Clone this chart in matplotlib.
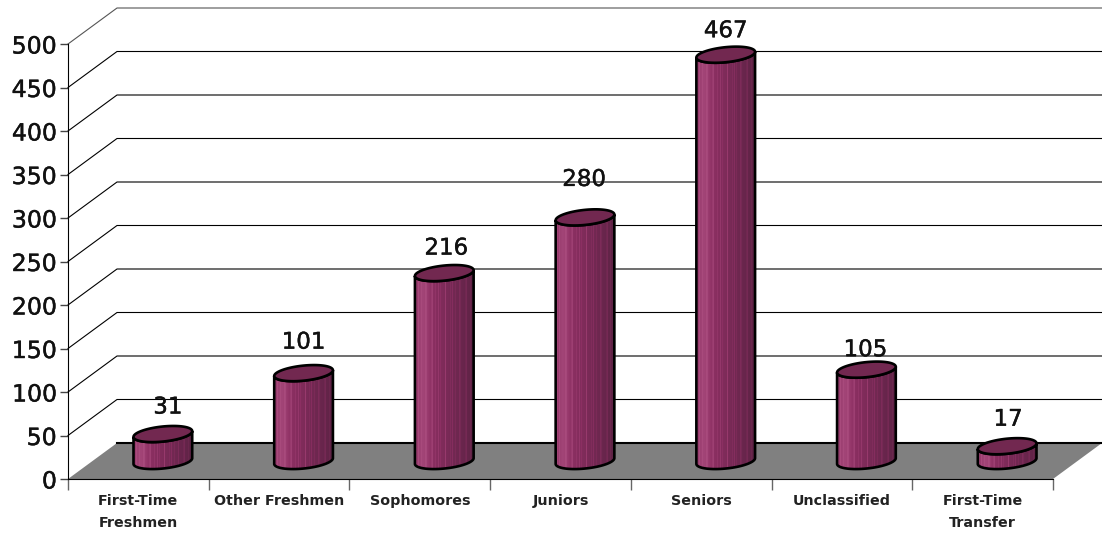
import numpy as np
import matplotlib
matplotlib.use('Agg')
import matplotlib.pyplot as plt
import matplotlib.patheffects as pe
from matplotlib.patches import Polygon
from matplotlib.colors import LinearSegmentedColormap

categories = ['First-Time\nFreshmen', 'Other Freshmen', 'Sophomores', 'Juniors',
              'Seniors', 'Unclassified', 'First-Time\nTransfer']
values = [31, 101, 216, 280, 467, 105, 17]
y_ticks = list(range(0, 501, 50))

# layout in pixels, the picture is 1102x536
LEFT, RIGHT, BOTTOM, TOP = 68, 1053, 479, 44
DEPTH_X, DEPTH_Y = 49, 36
label_gap = [27, 31, 25, 38, 24, 20, 27]
label_shift = [5, 0, 2, -1, 0, -1, 1]

PX_X = (RIGHT - LEFT) / len(categories)
PX_Y = (BOTTOM - TOP) / 500

A, B, TILT = 29.5, 7.5, np.radians(6)

bar_cmap = LinearSegmentedColormap.from_list('bar', ['#54203f', '#6f2750', '#8c2f62', '#a84a7c'])


def ellipse(cx, cy, t):
	# tilted end of a cylinder, (cx, cy) in data units
	px = A * np.cos(t) * np.cos(TILT) - B * np.sin(t) * np.sin(TILT)
	py = A * np.cos(t) * np.sin(TILT) + B * np.sin(t) * np.cos(TILT)
	return cx + px / PX_X, cy + py / PX_Y


def drawCylinder(ax, cx, base, top):
	t0 = np.arctan2(-B * np.sin(TILT), A * np.cos(TILT))
	arc_x, arc_y = ellipse(cx, base, np.linspace(t0 - np.pi, t0, 100))
	body_x = np.r_[arc_x, arc_x[::-1]]
	body_y = np.r_[arc_y, arc_y[::-1] + (top - base)]
	ax.add_patch(Polygon(np.c_[body_x, body_y], closed=True, facecolor='none', edgecolor='black',
						 lw=1.9, zorder=4, clip_on=False))

	# vertical shading with thin light stripes, darker to the right
	n = 60
	edges = np.linspace(body_x.min(), body_x.max(), n + 1)
	frac = np.linspace(0, 1, n)
	shade = 0.72 - 0.75 * np.clip(frac - 0.2, 0, 1) + 0.2 * np.exp(-((frac - 0.12) / 0.1) ** 2)
	shade = shade + 0.2 * (np.arange(n) % 7 == 3) + 0.12 * (np.arange(n) % 5 == 1)
	mesh = ax.pcolormesh(edges, [body_y.min(), body_y.max()], shade[None, :],
						 cmap=bar_cmap, vmin=0, vmax=1, zorder=3, clip_on=True)
	mesh.set_clip_path(Polygon(np.c_[body_x, body_y], closed=True, transform=ax.transData))

	t = np.linspace(0, 2 * np.pi, 200)
	xt, yt = ellipse(cx, top, t)
	ax.fill(xt, yt, facecolor='#722850', edgecolor='black', lw=1.9, zorder=5, clip_on=False)


def plotGraph():
	fig = plt.figure(figsize=(11.02, 5.36), dpi=100)
	ax = fig.add_axes([LEFT / 1102, (536 - BOTTOM) / 536, (RIGHT - LEFT) / 1102, (BOTTOM - TOP) / 536])
	n = len(categories)
	dx = DEPTH_X / PX_X
	dy = DEPTH_Y / PX_Y
	heavy = [pe.withStroke(linewidth=0.3, foreground='#111111')]

	# floor
	ax.add_patch(Polygon([(0, 0), (n, 0), (n + dx, dy), (dx, dy)], closed=True, facecolor='#808080',
						 edgecolor='none', zorder=1, clip_on=False))
	ax.plot([dx, n + dx], [dy, dy], color='black', lw=1.5, zorder=2, clip_on=False)

	# grid on the back wall and the side wall
	for v in y_ticks[1:]:
		col = '#555555' if v == 500 else 'black'
		ax.plot([0, dx, n + dx], [v, v + dy, v + dy], color=col, lw=0.8, zorder=0.5, clip_on=False)

	for i, v in enumerate(values):
		cx = i + 0.5 + dx / 2
		drawCylinder(ax, cx, dy / 2, dy / 2 + v)
		ax.text(cx + label_shift[i] / PX_X, dy / 2 + v + label_gap[i] / PX_Y, str(v), ha='center', va='center',
				fontsize=16.5, color='#111111', zorder=6, path_effects=heavy)

	ax.set_xlim(0, n)
	ax.set_ylim(0, 500)
	ax.set_yticks(y_ticks)
	ax.tick_params(axis='y', labelsize=17, length=6, width=1, color='#444444', pad=2, labelcolor='#111111')
	for lab in ax.get_yticklabels():
		lab.set_path_effects(heavy)
	ax.set_xticks(np.arange(n + 1))
	ax.set_xticklabels([])
	ax.tick_params(axis='x', which='major', length=8, width=1, color='#666666')
	ax.set_xticks(np.arange(n) + 0.5, minor=True)
	ax.set_xticklabels(categories, minor=True, fontsize=10.3, fontweight='bold', color='#222222', linespacing=1.75)
	ax.tick_params(axis='x', which='minor', length=0, pad=10.5)
	for s in ['top', 'right']:
		ax.spines[s].set_visible(False)
	ax.spines['bottom'].set_linewidth(0.8)
	ax.spines['left'].set_linewidth(0.8)
	ax.patch.set_alpha(0)
	fig.savefig('out.png', dpi=100, facecolor='white')


if __name__ == "__main__":
	plotGraph()
